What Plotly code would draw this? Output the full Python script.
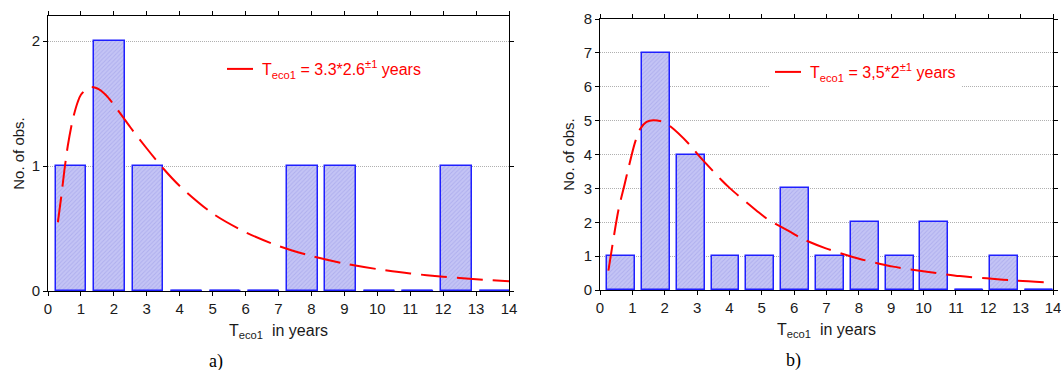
import plotly.graph_objects as go

# ---------------- data ----------------
# panel a)
a_bin_centers = [0.70, 1.87, 3.04, 4.21, 5.38, 6.55, 7.72, 8.89, 10.06, 11.23, 12.40, 13.57]
a_counts = [1, 2, 1, 0, 0, 0, 1, 1, 0, 0, 1, 0]
a_bar_width = 0.93
a_fit_x = [0.3, 0.4, 0.5, 0.6, 0.75, 0.9, 1.0, 1.25, 1.5, 1.75, 2.0, 2.5, 3.0, 3.5,
           4.0, 5.0, 6.0, 7.0, 8.0, 9.0, 10.0, 11.0, 12.0, 13.0, 14.0]
a_fit_y = [0.55, 0.75, 0.97, 1.16, 1.37, 1.51, 1.57, 1.63, 1.62, 1.57, 1.49, 1.31, 1.14, 0.98,
           0.84, 0.62, 0.47, 0.36, 0.28, 0.22, 0.175, 0.14, 0.115, 0.094, 0.078]
a_legend = "T<sub>eco1</sub> = 3.3*2.6<sup>±1</sup> years"
a_yticks = [0, 1, 2]

# panel b)
b_bin_centers = [0.65, 1.73, 2.80, 3.88, 4.95, 6.03, 7.11, 8.18, 9.26, 10.33, 11.41, 12.49, 13.56]
b_counts = [1, 7, 4, 1, 1, 3, 1, 2, 1, 2, 0, 1, 0]
b_bar_width = 0.86
b_fit_x = [0.26, 0.57, 0.75, 0.88, 1.08, 1.24, 1.44, 1.65, 1.96, 2.16, 2.76, 3.04, 3.76,
           4.02, 4.84, 5.15, 5.87, 6.28, 6.98, 7.98, 9.06, 10.1, 11.12, 11.95, 12.93, 14.0]
b_fit_y = [0.57, 2.36, 3.08, 3.6, 4.35, 4.75, 4.96, 5.01, 4.96, 4.84, 4.30, 3.98, 3.24,
           3.0, 2.34, 2.11, 1.72, 1.50, 1.23, 0.93, 0.69, 0.54, 0.41, 0.345, 0.27, 0.22]
b_legend = "T<sub>eco1</sub> = 3,5*2<sup>±1</sup> years"
b_yticks = [0, 1, 2, 3, 4, 5, 6, 7, 8]

x_ticks = list(range(0, 15))
x_title = "T<sub>eco1</sub>&nbsp;&nbsp;in years"
y_title = "No. of obs."

# ---------------- style ----------------
FONT = "Liberation Sans, Arial, sans-serif"
BAR_FILL = "#c4c4f5"
BAR_EDGE = "#1f1fff"
RED = "#ff0000"
TXT = "#1a1a1a"

fig = go.Figure()


def add_panel(centers, counts, width, fx, fy, legend_text, xa, ya, legend_name):
    fig.add_trace(go.Bar(
        x=centers, y=counts, width=width, xaxis=xa, yaxis=ya,
        marker=dict(color=BAR_FILL, line=dict(color=BAR_EDGE, width=1.5),
                    pattern=dict(shape="/", size=3, solidity=0.3,
                                 fgcolor="#9898e6", bgcolor=BAR_FILL)),
        showlegend=False, hoverinfo="x+y",
    ))
    # zero-count bins are drawn as flat blue segments on the baseline
    zx, zy = [], []
    for c, n in zip(centers, counts):
        if n == 0:
            zx += [c - width / 2, min(c + width / 2, 14), None]
            zy += [0, 0, None]
    fig.add_trace(go.Scatter(
        x=zx, y=zy, mode="lines", xaxis=xa, yaxis=ya,
        line=dict(color=BAR_EDGE, width=2.5), cliponaxis=False,
        showlegend=False, hoverinfo="skip",
    ))
    fig.add_trace(go.Scatter(
        x=fx, y=fy, mode="lines", xaxis=xa, yaxis=ya,
        line=dict(color=RED, width=2, dash="26px,10px", shape="spline", smoothing=0.8),
        name=legend_text, showlegend=True, legend=legend_name,
    ))


add_panel(a_bin_centers, a_counts, a_bar_width, a_fit_x, a_fit_y, a_legend, "x", "y", "legend")
add_panel(b_bin_centers, b_counts, b_bar_width, b_fit_x, b_fit_y, b_legend, "x2", "y2", "legend2")

W, H = 1061, 370

common_x = dict(range=[0, 14], tickmode="array", tickvals=x_ticks, showgrid=False,
                showline=True, linecolor="black", linewidth=1, mirror="ticks",
                ticks="outside", ticklen=4, tickcolor="black", zeroline=False,
                tickfont=dict(size=15, color=TXT), ticklabeloverflow="allow",
                title=dict(text=x_title, font=dict(size=16, color=TXT), standoff=8),
                automargin=False, fixedrange=True)
common_y = dict(showgrid=True, gridcolor="#b0b0b0", griddash="1px,1px", gridwidth=1,
                showline=True, linecolor="black", linewidth=1, mirror="ticks",
                ticks="outside", ticklen=4, tickcolor="black", zeroline=False,
                tickfont=dict(size=15, color=TXT), ticklabeloverflow="allow",
                title=dict(text=y_title, font=dict(size=15, color=TXT)),
                automargin=False, fixedrange=True)

fig.update_layout(
    width=W, height=H, margin=dict(l=0, r=0, t=0, b=0),
    paper_bgcolor="white", plot_bgcolor="white",
    font=dict(family=FONT, size=15, color=TXT),
    bargap=0,
    xaxis=dict(common_x, domain=[48 / W, 509 / W], anchor="y"),
    yaxis=dict(common_y, domain=[1 - 291 / H, 1 - 16 / H], anchor="x",
               range=[0, 2.2], tickmode="array", tickvals=a_yticks,
               title_standoff=3),
    xaxis2=dict(common_x, domain=[600 / W, 1053 / W], anchor="y2"),
    yaxis2=dict(common_y, domain=[1 - 290 / H, 1 - 19 / H], anchor="x2",
                range=[0, 8], tickmode="array", tickvals=b_yticks,
                title_standoff=5),
    legend=dict(x=222 / W, y=1 - 69 / H, xanchor="left", yanchor="middle",
                bgcolor="white", borderwidth=0,
                font=dict(family=FONT, size=16, color=RED), itemwidth=30),
    legend2=dict(x=770 / W, y=1 - 72 / H, xanchor="left", yanchor="middle",
                 bgcolor="white", borderwidth=0,
                 font=dict(family=FONT, size=16, color=RED), itemwidth=30),
    annotations=[
        dict(text="a)", x=216 / W, y=1 - 361 / H, xref="paper", yref="paper",
             xanchor="center", yanchor="middle", showarrow=False,
             font=dict(family="Liberation Serif, Times New Roman, serif", size=18, color="black")),
        dict(text="b)", x=793 / W, y=1 - 360 / H, xref="paper", yref="paper",
             xanchor="center", yanchor="middle", showarrow=False,
             font=dict(family="Liberation Serif, Times New Roman, serif", size=18, color="black")),
    ],
)

fig.write_html("out.html", include_plotlyjs=True,
               config={"displayModeBar": False},
               post_script="document.body.style.margin='0';")
